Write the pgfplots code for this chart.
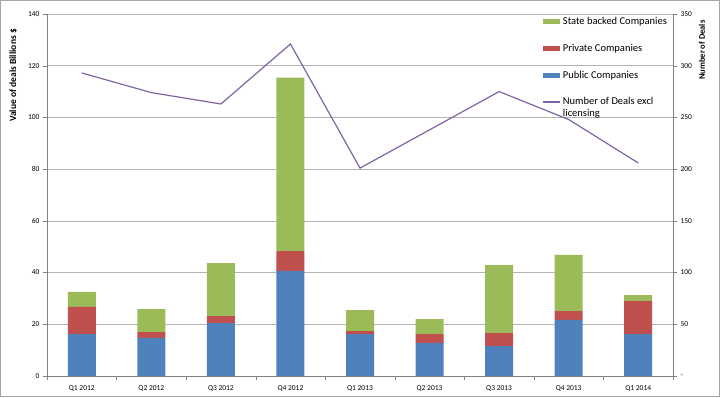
\documentclass[border=0pt]{standalone}
\usepackage{pgfplots}
\pgfplotsset{compat=1.18}
\usepackage{fontspec}
\setmainfont{Carlito}
\definecolor{cblue}{HTML}{4F81BD}
\definecolor{cred}{HTML}{C0504D}
\definecolor{cgreen}{HTML}{9BBB59}
\definecolor{cpurple}{HTML}{8064A2}
\definecolor{cgrid}{HTML}{B3B3B3}
\pgfplotsset{
  barleg/.style={legend image code/.code={\fill[##1, draw=none] (0pt,-2.5pt) rectangle (17pt,2.5pt);}},
  lineleg/.style={legend image code/.code={\draw[##1] (0pt,6pt) -- (17pt,6pt);}},
}
\begin{document}
\begin{tikzpicture}
\begin{axis}[name=a,
  scale only axis, width=626pt, height=362pt,
  xmin=-0.5, xmax=8.5, ymin=0, ymax=140,
  ybar stacked, bar width=28pt,
  axis y line*=left, axis x line*=bottom,
  axis line style={-, draw=gray},
  tick align=outside, major tick length=4pt,
  xtick={0,...,8}, xticklabels={Q1 2012,Q2 2012,Q3 2012,Q4 2012,Q1 2013,Q2 2013,Q3 2013,Q4 2013,Q1 2014},
  x tick style={draw=none},
  minor xtick={-0.5,0.5,...,8.5},
  minor x tick style={draw=gray}, minor tick length=4pt,
  ytick={0,20,...,140}, y tick style={draw=gray},
  ymajorgrids, grid style={cgrid, line width=0.7pt},
  /pgf/number format/assume math mode=true,
  xticklabel style={font=\fontsize{7.5}{8}\selectfont, yshift=-2pt},
  yticklabel style={font=\fontsize{7.5}{8}\selectfont},
  ylabel={Value of deals Billions \$},
  ylabel style={font=\bfseries\fontsize{9.5}{10}\selectfont, at={(axis description cs:-0.054,0.83)}, anchor=center},
]
\addplot[fill=cblue, draw=none] coordinates {(0,16.2) (1,14.7) (2,20.5) (3,40.7) (4,16.2) (5,12.8) (6,11.6) (7,21.7) (8,16.2)};
\addplot[fill=cred, draw=none] coordinates {(0,10.5) (1,2.3) (2,2.7) (3,7.6) (4,1.2) (5,3.4) (6,5.0) (7,3.4) (8,12.8)};
\addplot[fill=cgreen, draw=none] coordinates {(0,5.8) (1,8.9) (2,20.5) (3,67.1) (4,8.1) (5,5.8) (6,26.3) (7,21.7) (8,2.3)};
\end{axis}
\begin{axis}[
  scale only axis, width=626pt, height=362pt,
  xmin=-0.5, xmax=8.5, ymin=0, ymax=350,
  axis y line*=right, axis x line=none,
  axis line style={-, draw=gray},
  tick align=outside, major tick length=4pt, y tick style={draw=gray},
  ytick={0,50,...,350}, yticklabels={-,50,100,150,200,250,300,350},
  /pgf/number format/assume math mode=true,
  yticklabel style={font=\fontsize{7.5}{8}\selectfont},
  ylabel={Number of Deals},
  ylabel style={font=\bfseries\fontsize{8.5}{10}\selectfont, at={(axis description cs:1.046,0.90)}, anchor=center},
  legend style={at={(rel axis cs:0.79,1)}, anchor=north west, draw=none, fill=none,
    font=\fontsize{10.5}{12}\selectfont, row sep=14pt, cells={align=left, anchor=west},
    inner sep=1pt},
  legend cell align=left,
]
\addlegendimage{barleg, fill=cgreen, draw=none}
\addlegendentry{State backed Companies}
\addlegendimage{barleg, fill=cred, draw=none}
\addlegendentry{Private Companies}
\addlegendimage{barleg, fill=cblue, draw=none}
\addlegendentry{Public Companies}
\addplot[cpurple, line width=1.2pt, mark=none, lineleg] coordinates {(0,293) (1,274) (2,263) (3,321) (4,201) (5,238) (6,275) (7,248) (8,206)};
\addlegendentry{Number of Deals excl\\licensing}
\end{axis}
\pgfresetboundingbox
\draw[gray!70, line width=0.8pt] ([shift={(-46.6pt,-20.6pt)}]a.south west) rectangle ([shift={(46.6pt,13.6pt)}]a.north east);
\end{tikzpicture}
\end{document}
